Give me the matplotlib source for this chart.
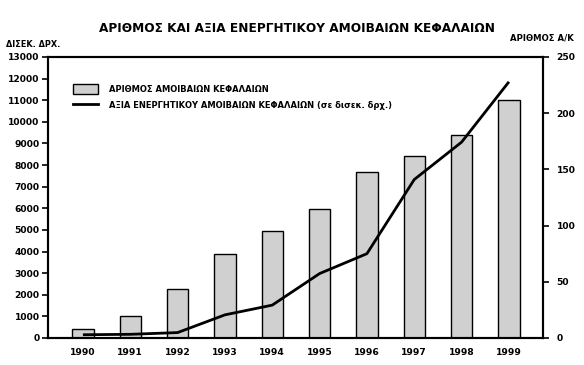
import numpy as np
from matplotlib import pyplot as plt
from matplotlib.patches import Patch
from matplotlib.lines import Line2D

plt.rcParams['font.family'] = ['DejaVu Sans']
plt.rcParams['font.weight'] = 'bold'

years = ['1990', '1991', '1992', '1993', '1994', '1995', '1996', '1997', '1998', '1999']
funds = [8, 20, 44, 75, 95, 115, 148, 162, 181, 212]
assets = [150, 170, 250, 1070, 1520, 2980, 3900, 7330, 9060, 11850]

x = np.arange(len(years))

fig = plt.figure(figsize=(5.84, 3.65), dpi=100)
ax = fig.add_axes([0.082, 0.074, 0.847, 0.770])
ax2 = ax.twinx()

# bars on the right axis, line on the left one drawn above them
ax2.bar(x, funds, width=0.45, color='#d0d0d0', edgecolor='black', linewidth=1.0, zorder=2)
ax2.set_facecolor('#f5f5f5')
ax.set_zorder(ax2.get_zorder() + 1)
ax.patch.set_visible(False)
ax.plot(x, assets, color='black', linewidth=2.0, solid_capstyle='butt')

ax.set_xlim(-0.74, 9.71)
ax.set_ylim(0, 13000)
ax2.set_ylim(0, 250)
ax.set_yticks(np.arange(0, 13001, 1000))
ax2.set_yticks(np.arange(0, 251, 50))
ax.set_xticks(x)
ax.set_xticklabels(years)

ax.tick_params(axis='x', length=0, pad=7, labelsize=6.6)
ax.tick_params(axis='y', length=4, width=1.2, pad=2, labelsize=6.6)
ax2.tick_params(axis='y', length=4, width=1.2, pad=6, labelsize=6.6)
for a in (ax, ax2):
    for s in a.spines.values():
        s.set_linewidth(1.5)

fig.text(0.508, 0.922, 'ΑΡΙΘΜΟΣ ΚΑΙ ΑΞΙΑ ΕΝΕΡΓΗΤΙΚΟΥ ΑΜΟΙΒΑΙΩΝ ΚΕΦΑΛΑΙΩΝ',
         ha='center', va='center', fontsize=8.7, fontweight='bold')
fig.text(0.010, 0.877, 'ΔΙΣΕΚ. ΔΡΧ.', ha='left', va='center', fontsize=5.9, fontweight='bold')
fig.text(0.982, 0.896, 'ΑΡΙΘΜΟΣ Α/Κ', ha='right', va='center', fontsize=6.1, fontweight='bold')

handles = [Patch(facecolor='#d0d0d0', edgecolor='black', linewidth=1.0),
           Line2D([0], [0], color='black', linewidth=2.0)]
labels = ['ΑΡΙΘΜΟΣ ΑΜΟΙΒΑΙΩΝ ΚΕΦΑΛΑΙΩΝ',
          'ΑΞΙΑ ΕΝΕΡΓΗΤΙΚΟΥ ΑΜΟΙΒΑΙΩΝ ΚΕΦΑΛΑΙΩΝ (σε δισεκ. δρχ.)']
ax.legend(handles, labels, loc='upper left', bbox_to_anchor=(0.035, 0.93), frameon=False,
          prop={'size': 6, 'weight': 'bold'}, handlelength=3.0, handleheight=1.4,
          handletextpad=1.3, labelspacing=0.75)

fig.savefig('out.png', dpi=100)
